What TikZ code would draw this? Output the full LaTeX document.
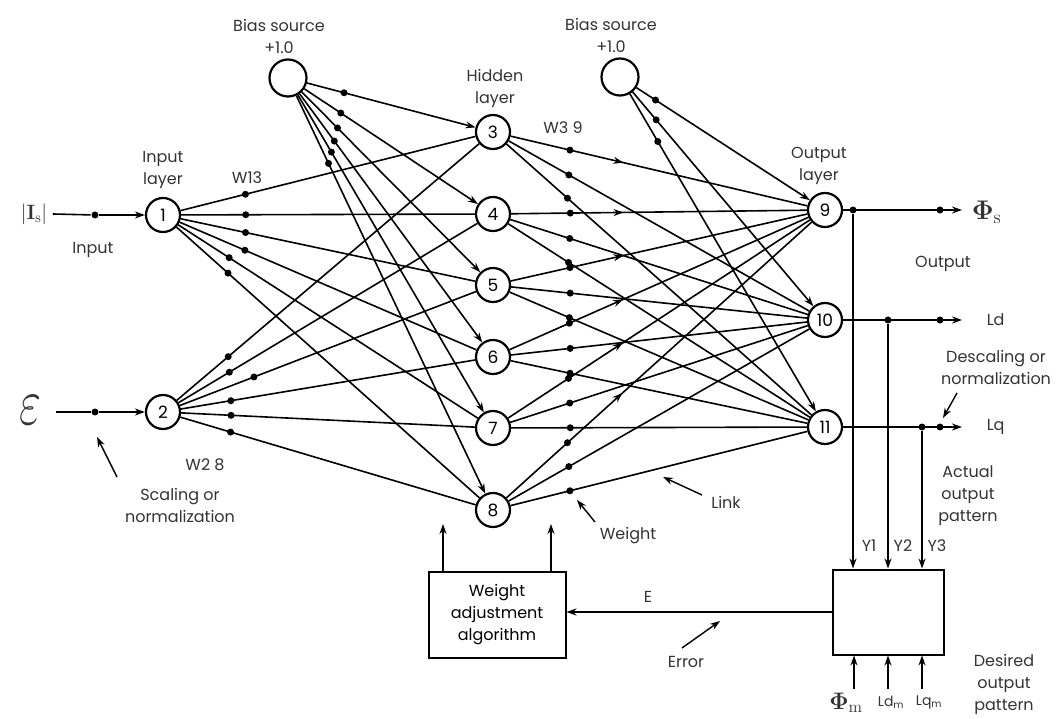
\documentclass[tikz,border=0pt]{standalone}
\usepackage[no-math]{fontspec}
\usepackage{graphicx}
\setmainfont{Poppins}
\usepackage{tikz}
\usetikzlibrary{arrows.meta, positioning, calc, decorations.markings}

\begin{document}
\begin{tikzpicture}[x=1pt, y=-1pt, line width=1.6pt,
    font=\fontsize{16}{22}\selectfont]
  \tikzset{
    neu/.style={circle, draw, line width=2.2pt, minimum size=34pt,
                inner sep=0pt, font=\fontsize{17}{17}\selectfont},
    bias/.style={neu, minimum size=37pt},
    wdot/.style={circle, fill, minimum size=7pt, inner sep=0pt},
    lnk/.style={-{Stealth[length=10pt, width=7pt]}},
    midarr/.style={postaction={decorate}, decoration={markings,
                mark=at position 0.38 with {\arrow{Stealth[length=10pt, width=7pt]}}}},
    blk/.style={draw, line width=2pt, inner sep=0pt, align=center},
    lbl/.style={align=center, inner sep=0pt, text=black!80}}
  \useasboundingbox (0,0) rectangle (1058,719);

  % neurons
  \node[neu] (i1) at (163,215) {1};
  \node[neu] (i2) at (163,412) {2};
  \node[bias] (b1) at (288,78) {};
  \node[bias] (b2) at (620,77) {};
  \foreach \i/\y in {3/132,4/214,5/285,6/357,7/428,8/510}
    \node[neu] (h\i) at (493,\y) {\i};
  \foreach \i/\y in {9/210,10/320,11/427}
    \node[neu] (o\i) at (825,\y) {\i};

  % links
  \foreach \j/\p in {3/.22,4/.22,5/.22,6/.22,7/.17,8/.17}
    \draw (i1) -- node[wdot, pos=\p] {} (h\j);
  \foreach \j/\p in {3/.17,4/.17,5/.25,6/.17,7/.17,8/.17}
    \draw (i2) -- node[wdot, pos=\p] {} (h\j);
  \foreach \j/\p in {3/.22,4/.21,5/.2,6/.19,7/.18,8/.17}
    \draw[lnk] (b1) -- node[wdot, pos=\p] {} (h\j);
  \foreach \i in {3,...,8}{
    \draw[midarr] (h\i) -- node[wdot, pos=.2] {} (o9);
    \foreach \k in {10,11} \draw (h\i) -- node[wdot, pos=.2] {} (o\k);}
  \foreach \k/\p in {9/.11,10/.13,11/.15}
    \draw[lnk] (b2) -- node[wdot, pos=\p] {} (o\k);

  % inputs
  \node[lbl, font=\fontsize{20.74}{22}\selectfont] (xis) at (34,214) {$|\mathbf{I}_{\mathrm{s}}|$};
  \node[lbl, font=\fontsize{20.74}{22}\selectfont] (xeps) at (30,410) {\scalebox{2.3}[3.2]{$\varepsilon$}};
  \node[wdot] (d1) at (95,215) {};
  \node[wdot] (d2) at (95,412) {};
  \draw ([xshift=5pt]xis.east) -- (d1);
  \draw[lnk] (d1) -- (i1);
  \draw ([xshift=14pt]xeps.east |- d2) -- (d2);
  \draw[lnk] (d2) -- (i2);

  % outputs
  \node[lbl, anchor=west, inner xsep=9pt, font=\fontsize{20.74}{22}\selectfont] (phis) at (962,212) {\scalebox{1.3}{$\mathbf{\Phi}_{\mathrm{s}}$}};
  \node[lbl, anchor=west, inner xsep=24pt] (ld) at (962,320) {Ld};
  \node[lbl, anchor=west, inner xsep=24pt] (lq) at (962,427) {Lq};
  \node[wdot] (j9) at (853,210) {};
  \node[wdot] (j10) at (888,320) {};
  \node[wdot] (j11) at (922,427) {};
  \node[wdot] (e9) at (940,210) {};
  \node[wdot] (e10) at (940,320) {};
  \node[wdot] (e11) at (940,427) {};
  \draw[lnk] (o9) -- (o9 -| phis.west);
  \draw[lnk] (o10) -- (ld);
  \draw[lnk] (o11) -- (lq);

  % comparison and weight update
  \node[blk, minimum width=111pt, minimum height=85pt] (res) at (888,612) {};
  \node[blk, minimum width=137pt, minimum height=86pt] (wadj) at (497,615)
    {Weight\\adjustment\\algorithm};
  \foreach \k in {9,10,11} \draw[lnk] (j\k) -- (j\k |- res.north);
  \foreach \x in {854,888,922}{
    \coordinate (ym\x) at (\x,689);
    \draw[lnk] (ym\x) -- (ym\x |- res.south);}
  \draw[lnk] (res.west) -- (res.west -| wadj.east);
  \draw[lnk] ([xshift=-54pt]wadj.north) -- ++(0,-47);
  \draw[lnk] ([xshift=54pt]wadj.north) -- ++(0,-47);

  % labels
  \node[lbl] (bs1) at (279,36) {Bias source\\+1.0};
  \node[lbl] (bs2) at (611,35) {Bias source\\+1.0};
  \node[lbl] (hl) at (495,88) {Hidden\\layer};
  \node[lbl] (il) at (163,170) {Input\\layer};
  \node[lbl] (ol) at (819,166) {Output\\layer};
  \node[lbl] (inp) at (93,250) {Input};
  \node[lbl] (w13) at (247,178) {W13};
  \node[lbl] (w28) at (205,465) {W2 8};
  \node[lbl] (w39) at (563,128) {W3 9};
  \node[lbl] (sc) at (180,505) {Scaling or\\normalization};
  \node[lbl] (outl) at (943,264) {Output};
  \node[lbl] (desc) at (996,367) {Descaling or\\normalization};
  \node[lbl] (act) at (968,496) {Actual\\output\\pattern};
  \node[lbl] (des) at (1004,684) {Desired\\output\\pattern};
  \node[lbl] (yy1) at (869,546) {Y1};
  \node[lbl] (yy2) at (903,546) {Y2};
  \node[lbl] (yy3) at (937,546) {Y3};
  \node[lbl, font=\fontsize{20.74}{22}\selectfont] (pm) at (846,703) {\scalebox{1.15}{$\mathbf{\Phi}_{\mathrm{m}}$}};
  \node[lbl, font=\fontsize{14}{14}\selectfont] (ldm) at (891,702) {Ld\textsubscript{m}};
  \node[lbl, font=\fontsize{14}{14}\selectfont] (lqm) at (929,702) {Lq\textsubscript{m}};
  \node[lbl] (el) at (648,597) {E};
  \node[lbl] (err) at (686,662) {Error};
  \node[lbl] (wt) at (628,536) {Weight};
  \node[lbl] (lk) at (726,502) {Link};

  % pointers
  \coordinate (p1) at (117,477); \coordinate (q1) at (97,437);
  \coordinate (p2) at (957,393); \coordinate (q2) at (943,418);
  \coordinate (p3) at (682,648); \coordinate (q3) at (720,621);
  \coordinate (p4) at (595,522); \coordinate (q4) at (577,500);
  \coordinate (p5) at (702,495); \coordinate (q5) at (663,477);
  \foreach \n in {1,...,5} \draw[lnk, line width=1.4pt] (p\n) -- (q\n);
\end{tikzpicture}
\end{document}
